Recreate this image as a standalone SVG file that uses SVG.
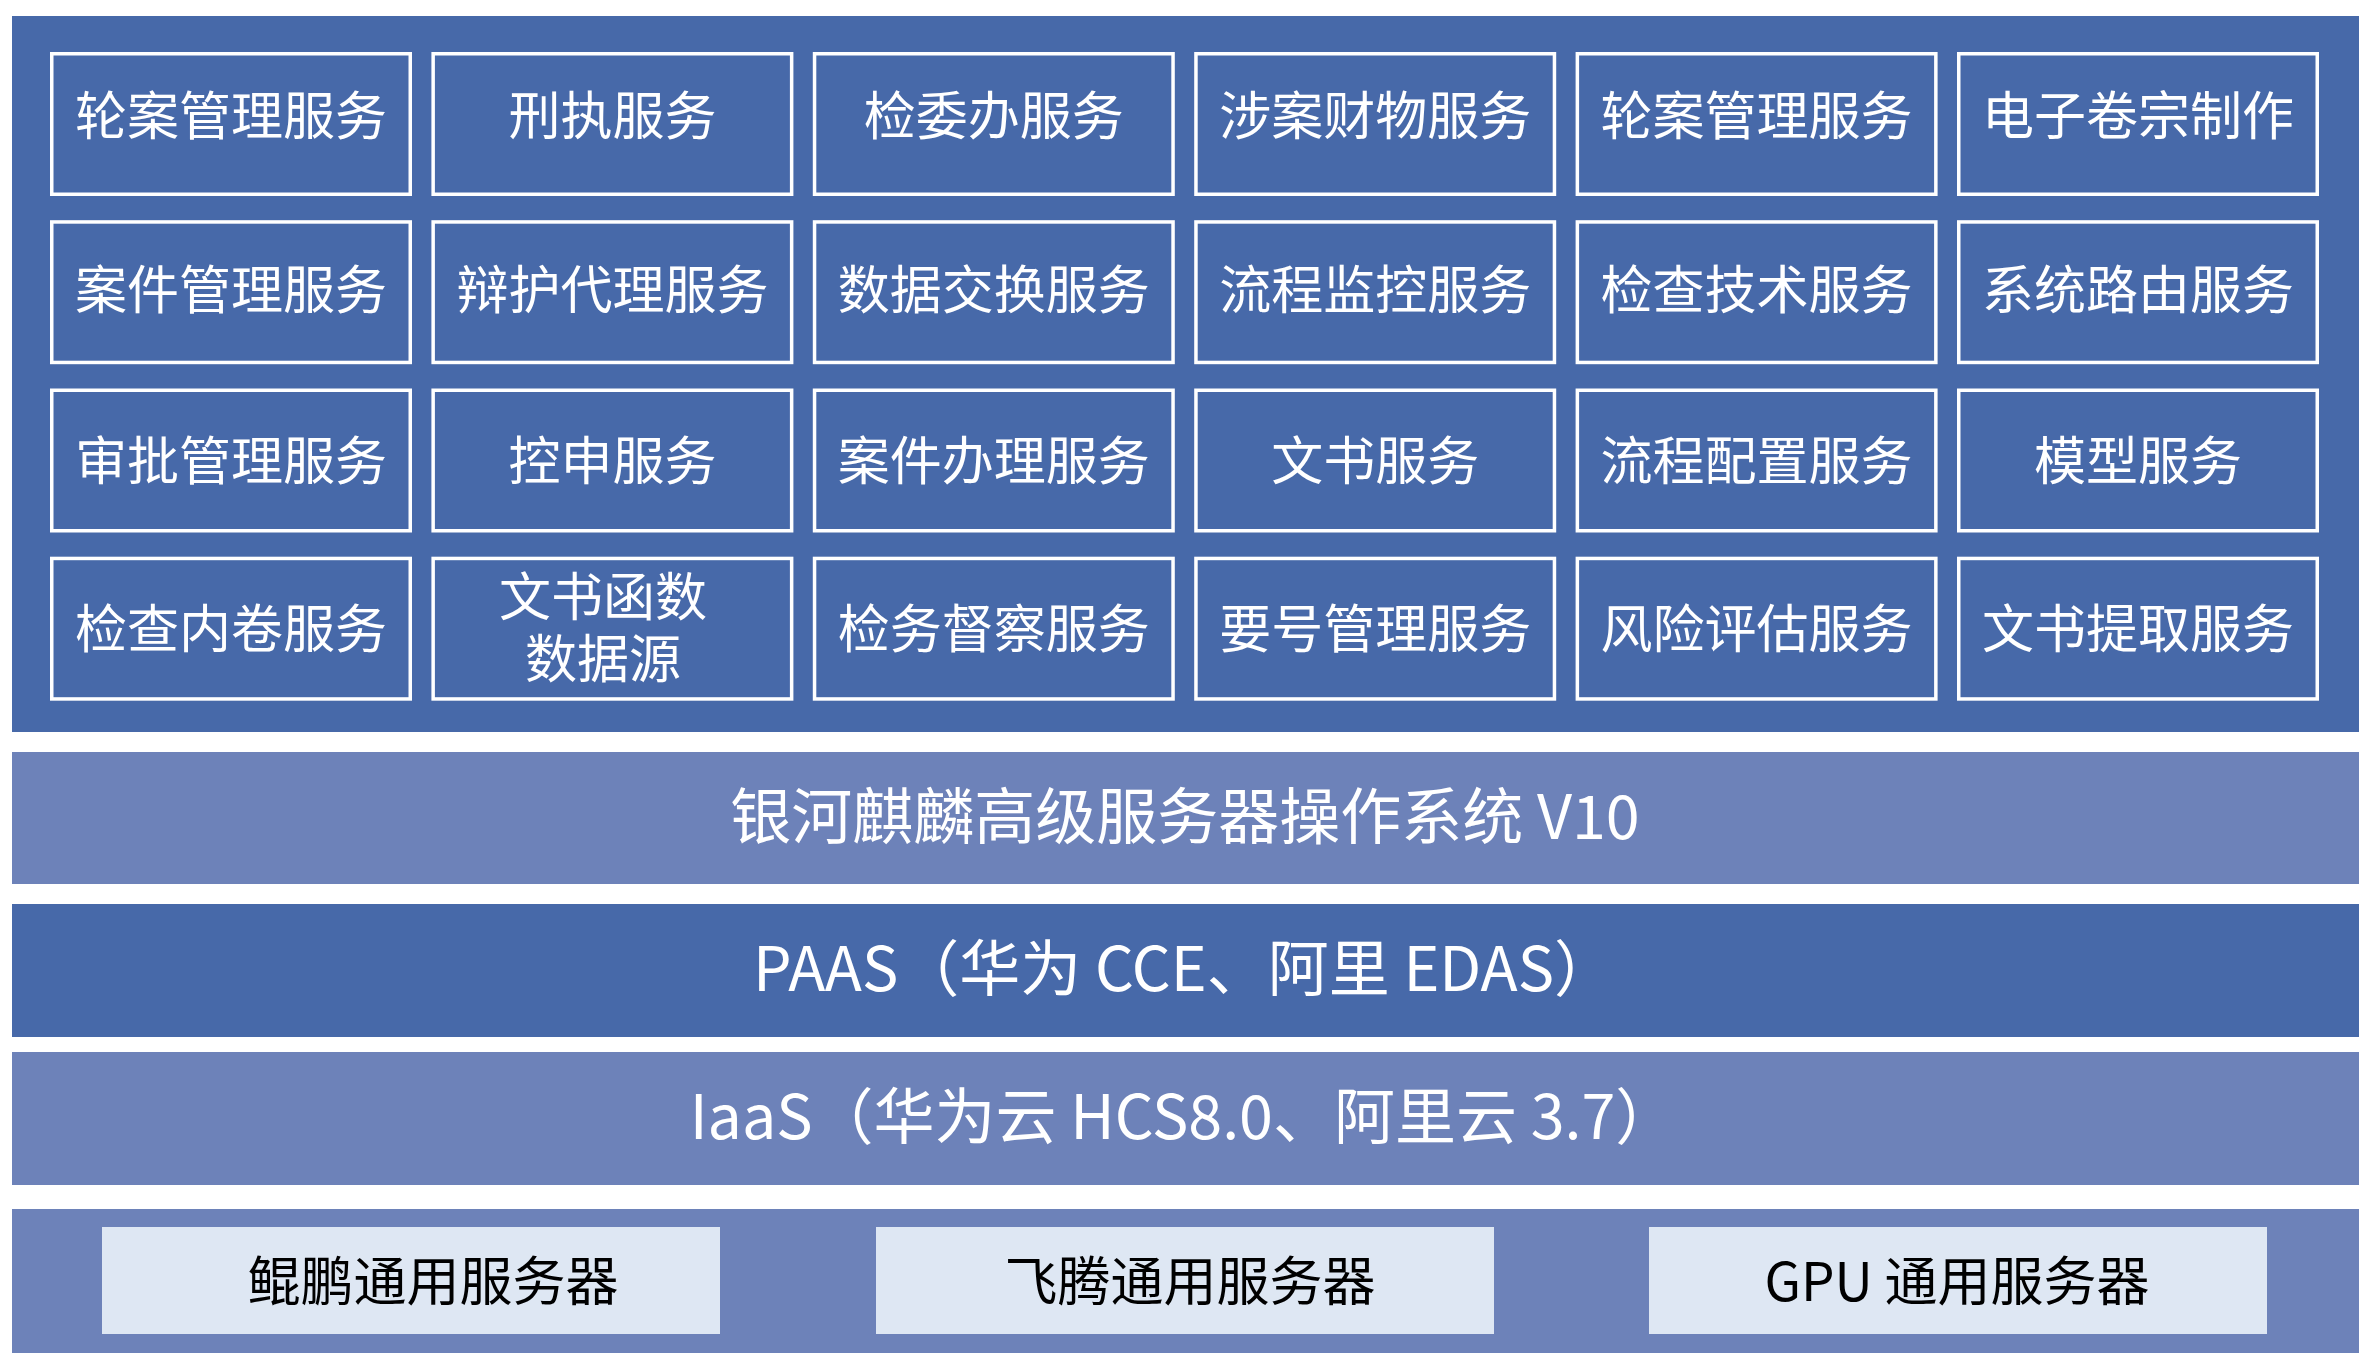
<svg xmlns="http://www.w3.org/2000/svg" width="2375" height="1367" viewBox="0 0 2375 1367">
<style>
.panel{fill:#4769A9}
.light{fill:#6D82B9}
.cell rect{fill:#4769A9;stroke:#FFFFFF;stroke-width:3.5}
.t{font-family:"Noto Sans CJK SC","Noto Sans",sans-serif;fill:#FFFFFF;text-anchor:middle}
.ct{font-size:52px}
.bt{font-size:61px}
.srv rect{fill:#DEE7F3}
.st{font-family:"Noto Sans CJK SC","Noto Sans",sans-serif;fill:#000000;text-anchor:middle;font-size:53px}
</style>
<rect width="2375" height="1367" fill="#FFFFFF"/>
<g id="services-panel">
<rect class="panel" x="12" y="16" width="2347" height="716"/>
</g>
<g id="cell-r1c1" class="cell"><rect x="51.75" y="53.75" width="358.5" height="140.5"/><text class="t ct" x="231" y="135">轮案管理服务</text></g>
<g id="cell-r1c2" class="cell"><rect x="433.15" y="53.75" width="358.5" height="140.5"/><text class="t ct" x="612.4" y="135">刑执服务</text></g>
<g id="cell-r1c3" class="cell"><rect x="814.55" y="53.75" width="358.5" height="140.5"/><text class="t ct" x="993.8" y="135">检委办服务</text></g>
<g id="cell-r1c4" class="cell"><rect x="1195.95" y="53.75" width="358.5" height="140.5"/><text class="t ct" x="1375.2" y="135">涉案财物服务</text></g>
<g id="cell-r1c5" class="cell"><rect x="1577.35" y="53.75" width="358.5" height="140.5"/><text class="t ct" x="1756.6" y="135">轮案管理服务</text></g>
<g id="cell-r1c6" class="cell"><rect x="1958.75" y="53.75" width="358.5" height="140.5"/><text class="t ct" x="2138" y="135">电子卷宗制作</text></g>

<g id="cell-r2c1" class="cell"><rect x="51.75" y="221.95" width="358.5" height="140.5"/><text class="t ct" x="231" y="309">案件管理服务</text></g>
<g id="cell-r2c2" class="cell"><rect x="433.15" y="221.95" width="358.5" height="140.5"/><text class="t ct" x="612.4" y="309">辩护代理服务</text></g>
<g id="cell-r2c3" class="cell"><rect x="814.55" y="221.95" width="358.5" height="140.5"/><text class="t ct" x="993.8" y="309">数据交换服务</text></g>
<g id="cell-r2c4" class="cell"><rect x="1195.95" y="221.95" width="358.5" height="140.5"/><text class="t ct" x="1375.2" y="309">流程监控服务</text></g>
<g id="cell-r2c5" class="cell"><rect x="1577.35" y="221.95" width="358.5" height="140.5"/><text class="t ct" x="1756.6" y="309">检查技术服务</text></g>
<g id="cell-r2c6" class="cell"><rect x="1958.75" y="221.95" width="358.5" height="140.5"/><text class="t ct" x="2138" y="309">系统路由服务</text></g>

<g id="cell-r3c1" class="cell"><rect x="51.75" y="390.25" width="358.5" height="140.5"/><text class="t ct" x="231" y="480">审批管理服务</text></g>
<g id="cell-r3c2" class="cell"><rect x="433.15" y="390.25" width="358.5" height="140.5"/><text class="t ct" x="612.4" y="480">控申服务</text></g>
<g id="cell-r3c3" class="cell"><rect x="814.55" y="390.25" width="358.5" height="140.5"/><text class="t ct" x="993.8" y="480">案件办理服务</text></g>
<g id="cell-r3c4" class="cell"><rect x="1195.95" y="390.25" width="358.5" height="140.5"/><text class="t ct" x="1375.2" y="480">文书服务</text></g>
<g id="cell-r3c5" class="cell"><rect x="1577.35" y="390.25" width="358.5" height="140.5"/><text class="t ct" x="1756.6" y="480">流程配置服务</text></g>
<g id="cell-r3c6" class="cell"><rect x="1958.75" y="390.25" width="358.5" height="140.5"/><text class="t ct" x="2138" y="480">模型服务</text></g>

<g id="cell-r4c1" class="cell"><rect x="51.75" y="558.45" width="358.5" height="140.5"/><text class="t ct" x="231" y="648">检查内卷服务</text></g>
<g id="cell-r4c2" class="cell"><rect x="433.15" y="558.45" width="358.5" height="140.5"/><text class="t ct"><tspan x="603" y="616">文书函数</tspan><tspan x="603" y="678">数据源</tspan></text></g>
<g id="cell-r4c3" class="cell"><rect x="814.55" y="558.45" width="358.5" height="140.5"/><text class="t ct" x="993.8" y="648">检务督察服务</text></g>
<g id="cell-r4c4" class="cell"><rect x="1195.95" y="558.45" width="358.5" height="140.5"/><text class="t ct" x="1375.2" y="648">要号管理服务</text></g>
<g id="cell-r4c5" class="cell"><rect x="1577.35" y="558.45" width="358.5" height="140.5"/><text class="t ct" x="1756.6" y="648">风险评估服务</text></g>
<g id="cell-r4c6" class="cell"><rect x="1958.75" y="558.45" width="358.5" height="140.5"/><text class="t ct" x="2138" y="648">文书提取服务</text></g>

<g id="os-layer"><rect class="light" x="12" y="752" width="2347" height="132"/><text class="t bt" x="1185" y="839">银河麒麟高级服务器操作系统 V10</text></g>
<g id="paas-layer"><rect class="panel" x="12" y="904" width="2347" height="133"/><text class="t bt" x="1184" y="991">PAAS（华为 CCE、阿里 EDAS）</text></g>
<g id="iaas-layer"><rect class="light" x="12" y="1052" width="2347" height="133"/><text class="t bt" x="1183" y="1139">IaaS（华为云 HCS8.0、阿里云 3.7）</text></g>
<g id="hardware-layer"><rect class="light" x="12" y="1209" width="2347" height="144"/></g>
<g id="server-kunpeng" class="srv"><rect x="102" y="1227" width="618" height="107"/><text class="st" x="433" y="1301">鲲鹏通用服务器</text></g>
<g id="server-feiteng" class="srv"><rect x="876" y="1227" width="618" height="107"/><text class="st" x="1190" y="1301">飞腾通用服务器</text></g>
<g id="server-gpu" class="srv"><rect x="1649" y="1227" width="618" height="107"/><text class="st" x="1957" y="1301">GPU 通用服务器</text></g>
<g id="connectors"/>
</svg>
